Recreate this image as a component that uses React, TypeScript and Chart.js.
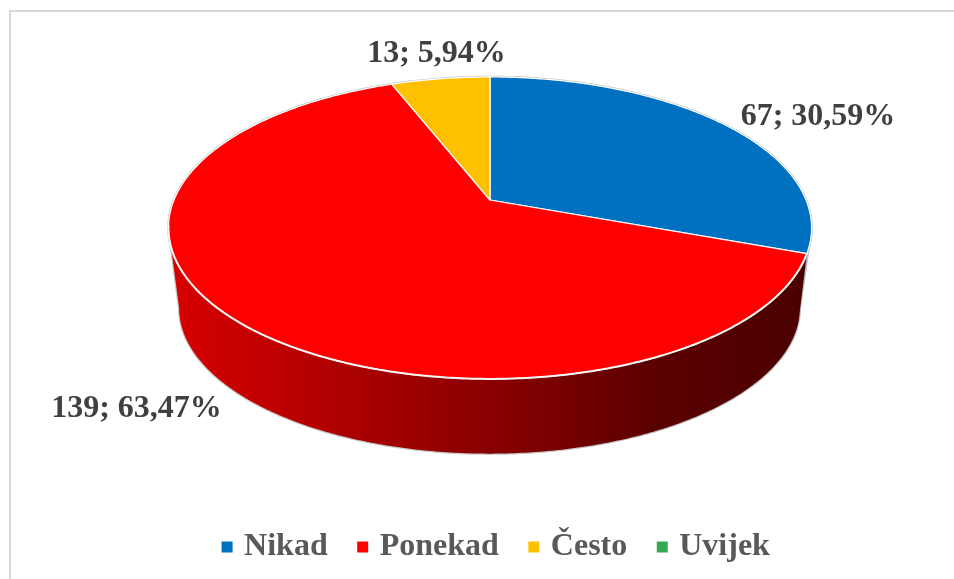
import React, { useEffect, useRef } from "react";
import { Chart, registerables } from "chart.js";

Chart.register(...registerables);

const categories = ["Nikad", "Ponekad", "Često", "Uvijek"];
const counts = [67, 139, 13, 0];
const sliceColors = ["#0070C0", "#FF0000", "#FFC000", "#33A852"];

// Perspective of the disc: apex of the slices, half-width, depth and foreshortening.
const TOP = { cx: 490, cy: 200, a: 316, b: 145.8, k: -0.185 };
const BASE = { cx: 489.5, cy: 281, a: 305, b: 140.7, k: -0.185 };
const labelSpots = [
  { x: 818, y: 117 },
  { x: 136.5, y: 409 },
  { x: 436.5, y: 54 },
];
const LABEL_FONT = "bold 32px 'Liberation Serif'";

type Proj = typeof TOP;

// Angles (canvas radians) at which the ellipse silhouette reaches its side extremes.
const TANGENT = Math.asin(-TOP.k);

function project(p: Proj, angle: number) {
  const u = Math.cos(angle);
  const v = Math.sin(angle);
  const d = 1 + p.k * v;
  return { x: p.cx + (p.a * u) / d, y: p.cy + (p.b * v) / d };
}

function arcPoints(p: Proj, from: number, to: number) {
  const n = Math.max(2, Math.ceil(Math.abs(to - from) / 0.01));
  const pts = [];
  for (let i = 0; i <= n; i++) pts.push(project(p, from + ((to - from) * i) / n));
  return pts;
}

function trace(ctx: CanvasRenderingContext2D, pts: { x: number; y: number }[], move = true) {
  pts.forEach((q, i) => {
    if (i === 0 && move) ctx.moveTo(q.x, q.y);
    else ctx.lineTo(q.x, q.y);
  });
}

const pie3d = {
  id: "pie3d",
  beforeDatasetsDraw(chart: any) {
    const ctx: CanvasRenderingContext2D = chart.ctx;
    const arcs = chart.getDatasetMeta(0).data as any[];
    const full = Math.PI * 2;
    const leftT = Math.PI - TANGENT;

    ctx.save();
    ctx.lineJoin = "round";

    // soft grey silhouette of the disc and of its base
    ctx.strokeStyle = "#c6c6c6";
    ctx.lineWidth = 2.5;
    ctx.beginPath();
    trace(ctx, arcPoints(TOP, 0, full));
    ctx.closePath();
    ctx.stroke();
    ctx.beginPath();
    const tl = project(TOP, leftT);
    const tr = project(TOP, TANGENT);
    ctx.moveTo(tl.x, tl.y);
    trace(ctx, arcPoints(BASE, leftT, TANGENT), false);
    ctx.lineTo(tr.x, tr.y);
    ctx.stroke();

    // side walls: only the part between the two silhouette tangents is visible
    const grad = ctx.createLinearGradient(168, 0, 811, 0);
    grad.addColorStop(0, "#d80000");
    grad.addColorStop(0.28, "#ac0000");
    grad.addColorStop(0.52, "#860000");
    grad.addColorStop(0.75, "#5c0000");
    grad.addColorStop(1, "#4a0000");

    const blueEnd = arcs[0].endAngle;
    ctx.beginPath();
    trace(ctx, arcPoints(TOP, TANGENT, blueEnd));
    trace(ctx, arcPoints(BASE, TANGENT, TANGENT), false);
    ctx.closePath();
    ctx.fillStyle = "#8fa9c4";
    ctx.fill();

    ctx.beginPath();
    trace(ctx, arcPoints(TOP, arcs[1].startAngle, leftT));
    trace(ctx, arcPoints(BASE, leftT, TANGENT + 0.03), false);
    ctx.closePath();
    ctx.fillStyle = grad;
    ctx.fill();

    // top faces
    arcs.forEach((a, i) => {
      if (a.endAngle - a.startAngle <= 0) return;
      ctx.beginPath();
      ctx.moveTo(TOP.cx, TOP.cy);
      trace(ctx, arcPoints(TOP, a.startAngle, a.endAngle), false);
      ctx.closePath();
      ctx.fillStyle = sliceColors[i];
      ctx.fill();
      ctx.strokeStyle = "#ffffff";
      ctx.lineWidth = 1.2;
      ctx.stroke();
    });

    // bright front rim
    ctx.strokeStyle = "#f4f4f4";
    ctx.lineWidth = 2;
    ctx.beginPath();
    trace(ctx, arcPoints(TOP, arcs[1].startAngle, leftT + 0.02));
    ctx.stroke();

    ctx.restore();

    // value labels
    ctx.save();
    ctx.font = LABEL_FONT;
    ctx.fillStyle = "#404040";
    ctx.textAlign = "center";
    ctx.textBaseline = "middle";
    const total = counts.reduce((s, v) => s + v, 0);
    labelSpots.forEach((s, i) => {
      const pct = ((counts[i] / total) * 100).toFixed(2).replace(".", ",");
      ctx.fillText(`${counts[i]}; ${pct}%`, s.x, s.y);
    });
    ctx.restore();
    return false;
  },
};

const frame = {
  id: "frame",
  beforeDraw(chart: any) {
    const ctx: CanvasRenderingContext2D = chart.ctx;
    ctx.save();
    ctx.fillStyle = "#ffffff";
    ctx.fillRect(0, 0, chart.width, chart.height);
    ctx.strokeStyle = "#d9d9d9";
    ctx.lineWidth = 2;
    ctx.beginPath();
    ctx.moveTo(10, chart.height);
    ctx.lineTo(10, 11);
    ctx.lineTo(chart.width, 11);
    ctx.stroke();
    ctx.restore();
  },
};

export default function App() {
  const ref = useRef<HTMLCanvasElement>(null);
  useEffect(() => {
    document.body.style.margin = "0";
    const chart = new Chart(ref.current!, {
      type: "pie",
      data: {
        labels: categories,
        datasets: [{ data: counts, backgroundColor: sliceColors, borderWidth: 0 }],
      },
      options: {
        responsive: false,
        animation: false,
        layout: { padding: { bottom: 6, left: 42 } },
        plugins: {
          tooltip: { enabled: false },
          title: { display: false },
          legend: {
            position: "bottom",
            labels: {
              usePointStyle: true,
              pointStyle: "rect",
              boxWidth: 2,
              boxHeight: 11,
              padding: 34,
              color: "#595959",
              font: { family: "'Liberation Serif'", size: 32, weight: "bold" },
            },
          },
        },
      },
      plugins: [frame, pie3d],
    } as any);
    return () => chart.destroy();
  }, []);
  return <canvas ref={ref} width={954} height={579} style={{ display: "block" }} />;
}
